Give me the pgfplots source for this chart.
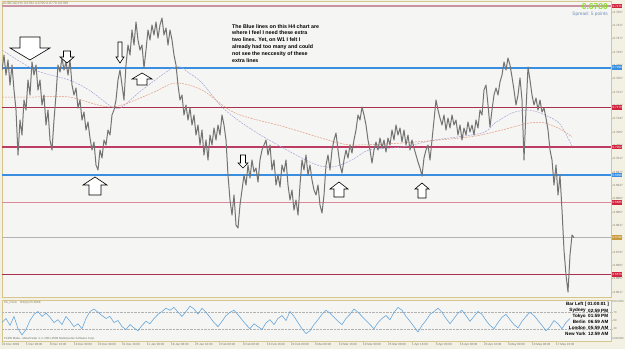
\documentclass[border=0pt]{standalone}
\usepackage{pgfplots}
\usepackage{pgfplotstable}
\pgfplotsset{compat=1.18}
\usepackage{fontspec}
\setmainfont{Liberation Sans}
\definecolor{pagebg}{HTML}{F3F0E4}
\definecolor{chartbg}{HTML}{F5F5F3}
\definecolor{frame}{HTML}{D6C68E}
\definecolor{blueL}{HTML}{3A8EE0}
\definecolor{maroonL}{HTML}{A8304E}
\definecolor{crimL}{HTML}{BC3C62}
\definecolor{pinkL}{HTML}{DC8A9A}
\definecolor{mauveL}{HTML}{C8939F}
\definecolor{grayL}{HTML}{B2B2B2}
\definecolor{priceC}{HTML}{747474}
\definecolor{maP}{HTML}{A4A4DA}
\definecolor{maO}{HTML}{E29A7C}
\definecolor{rsiC}{HTML}{5EA2DA}
\definecolor{lbl}{HTML}{77776A}
\definecolor{goldB}{HTML}{C89A40}
\definecolor{boxred}{HTML}{D0243E}
\definecolor{hdr}{HTML}{8A7D50}
\definecolor{grn}{HTML}{8CE030}
\definecolor{spr}{HTML}{7090B8}

\pgfplotstableread{
x y
0 0.7283
2 0.7328
4 0.7268
6 0.7313
8 0.7238
10 0.7298
12 0.7223
14 0.7163
16 0.7028
18 0.7133
20 0.7088
22 0.7193
24 0.7163
26 0.7253
28 0.7208
30 0.7307
32 0.7268
34 0.7298
36 0.7223
38 0.7253
40 0.7178
42 0.7208
44 0.7118
46 0.7163
48 0.7073
50 0.7043
52 0.7133
54 0.7208
56 0.7298
58 0.7277
60 0.7319
62 0.7283
64 0.7307
66 0.7268
68 0.7313
70 0.7238
72 0.7208
74 0.7229
76 0.7169
78 0.7193
80 0.7133
82 0.7157
84 0.7103
86 0.7127
88 0.7079
90 0.7043
92 0.7067
94 0.6998
96 0.6983
98 0.7043
100 0.7019
102 0.7073
104 0.7058
106 0.7103
108 0.7088
110 0.7148
112 0.7163
114 0.7193
116 0.7253
118 0.7283
120 0.7238
122 0.7193
124 0.7298
126 0.7358
128 0.7328
130 0.7403
132 0.7358
134 0.7427
136 0.7373
138 0.7343
140 0.7358
142 0.7289
144 0.7343
146 0.7403
148 0.7373
150 0.7418
152 0.7388
154 0.7427
156 0.7379
158 0.7418
160 0.7439
162 0.7388
164 0.7409
166 0.7358
168 0.7403
170 0.7373
172 0.7328
174 0.7298
176 0.7238
178 0.7193
180 0.7208
182 0.7148
184 0.7178
186 0.7133
188 0.7169
190 0.7118
192 0.7148
194 0.7088
196 0.7118
198 0.7058
200 0.7103
202 0.7028
204 0.7073
206 0.7013
208 0.7088
210 0.7058
212 0.7109
214 0.7073
216 0.7118
218 0.7088
220 0.7148
222 0.7118
224 0.7073
226 0.6968
228 0.6893
230 0.6848
232 0.6908
234 0.6818
236 0.6809
238 0.6878
240 0.6923
242 0.6968
244 0.6938
246 0.6998
248 0.6959
250 0.7013
252 0.6977
254 0.6989
256 0.6947
258 0.7013
260 0.7043
262 0.7058
264 0.7073
266 0.7028
268 0.7058
270 0.6983
272 0.7013
274 0.6938
276 0.6968
278 0.6932
280 0.6998
282 0.6977
284 0.7013
286 0.6938
288 0.6893
290 0.6923
292 0.6863
294 0.6893
296 0.6848
298 0.6938
300 0.7013
302 0.6983
304 0.7028
306 0.6968
308 0.6998
310 0.6953
312 0.6923
314 0.6908
316 0.6938
318 0.6878
320 0.6854
322 0.6908
324 0.6998
326 0.7028
328 0.6983
330 0.7043
332 0.7073
334 0.7094
336 0.7043
338 0.6998
340 0.6974
342 0.7013
344 0.7043
346 0.7019
348 0.7058
350 0.7034
352 0.7073
354 0.7103
356 0.7148
358 0.7133
360 0.7172
362 0.7148
364 0.7118
366 0.7073
368 0.7043
370 0.7004
372 0.7043
374 0.7067
376 0.7043
378 0.7079
380 0.7049
382 0.7073
384 0.7037
386 0.7079
388 0.7058
390 0.7103
392 0.7073
394 0.7118
396 0.7088
398 0.7109
400 0.7067
402 0.7103
404 0.7058
406 0.7088
408 0.7043
410 0.7073
412 0.7049
414 0.7028
416 0.7007
418 0.6989
420 0.6965
422 0.7019
424 0.7043
426 0.7058
428 0.7013
430 0.7073
432 0.7133
434 0.7193
436 0.7163
438 0.7139
440 0.7118
442 0.7148
444 0.7103
446 0.7139
448 0.7109
450 0.7148
452 0.7118
454 0.7133
456 0.7088
458 0.7118
460 0.7073
462 0.7109
464 0.7088
466 0.7127
468 0.7097
470 0.7118
472 0.7088
474 0.7133
476 0.7109
478 0.7163
480 0.7148
482 0.7223
484 0.7238
486 0.7178
488 0.7112
490 0.7163
492 0.7208
494 0.7229
496 0.7208
498 0.7247
500 0.7268
502 0.7307
504 0.7283
506 0.7319
508 0.7298
510 0.7262
512 0.7223
514 0.7178
516 0.7208
518 0.7259
520 0.7193
522 0.7013
524 0.7163
526 0.7292
528 0.7253
530 0.7208
532 0.7178
534 0.7199
536 0.7163
538 0.7193
540 0.7157
542 0.7169
544 0.7139
546 0.7103
548 0.7043
550 0.7013
552 0.6938
554 0.6998
556 0.6908
558 0.6968
560 0.6863
562 0.6743
564 0.6668
566 0.6617
568 0.6728
570 0.6788
572 0.6780
}\pricedata

\pgfplotstableread{
x v
0 45
4 55
8 38
12 60
16 30
20 15
24 28
28 50
32 65
36 72
40 60
44 68
48 58
52 45
56 52
60 40
64 60
68 48
72 35
76 42
80 30
84 55
88 72
92 78
96 70
100 62
104 55
108 60
112 45
116 50
120 35
124 28
128 40
132 32
136 25
140 38
144 48
148 42
152 55
156 65
160 72
164 80
168 75
172 82
176 70
180 60
184 72
188 85
192 78
196 66
200 80
204 70
208 58
212 45
216 35
220 48
224 62
228 70
232 75
236 64
240 52
244 40
248 30
252 42
256 35
260 28
264 44
268 52
272 40
276 55
280 62
284 50
288 72
292 60
296 45
300 30
304 18
308 25
312 40
316 52
320 65
324 75
328 68
332 58
336 48
340 40
344 55
348 65
352 78
356 70
360 60
364 50
368 40
372 30
376 45
380 55
384 62
388 52
392 70
396 82
400 75
404 60
408 48
412 35
416 22
420 38
424 50
428 65
432 72
436 80
440 70
444 55
448 42
452 55
456 68
460 75
464 62
468 48
472 60
476 72
480 65
484 50
488 38
492 30
496 45
500 58
504 65
508 52
512 40
516 32
520 48
524 60
528 70
532 62
536 50
540 38
544 25
548 35
552 50
556 42
560 30
564 45
568 55
}\rsidata

\newcommand{\darr}[6]{%
\draw[black, fill=white, line width=0.6pt, line join=miter] (#1-#5,#2-#4-#6) -- (#1+#5,#2-#4-#6) -- (#1+#5,#2-#4) -- (#1+#3,#2-#4) -- (#1,#2) -- (#1-#3,#2-#4) -- (#1-#5,#2-#4) -- cycle;}
\newcommand{\uarr}[6]{%
\draw[black, fill=white, line width=0.6pt, line join=miter] (#1,#2) -- (#1+#3,#2+#4) -- (#1+#5,#2+#4) -- (#1+#5,#2+#4+#6) -- (#1-#5,#2+#4+#6) -- (#1-#5,#2+#4) -- (#1-#3,#2+#4) -- cycle;}

\begin{document}
\begin{tikzpicture}[x=1pt,y=1pt]
\useasboundingbox (0,0) rectangle (625,349);
\fill[pagebg] (0,0) rectangle (625,349);

\begin{axis}[
  at={(2pt,52pt)}, anchor=south west,
  scale only axis, width=609pt, height=296pt,
  xmin=0, xmax=609, ymin=0.6602, ymax=0.7490,
  axis background/.style={fill=chartbg},
  axis line style={frame, line width=0.7pt},
  xtick=\empty,
  ytick={0.6617,0.6657,0.6697,0.6737,0.6777,0.6817,0.6857,0.6897,0.6937,0.6977,0.7017,0.7057,0.7097,0.7137,0.7177,0.7217,0.7257,0.7297,0.7337,0.7377,0.7417,0.7457},
  ytick pos=right, yticklabel pos=right, tick align=outside,
  major tick length=1.5pt, tick style={frame, line width=0.4pt},
  scaled y ticks=false,
  yticklabel style={font=\fontsize{3}{3}\selectfont, text=lbl, inner sep=0.8pt,
    /pgf/number format/.cd, fixed, fixed zerofill, precision=4, assume math mode=true},
  clip mode=individual,
]
% support / resistance lines
\addplot[draw=mauveL, line width=1.8pt] coordinates {(0,0.7475) (609,0.7475)};
\addplot[draw=blueL, line width=1.8pt] coordinates {(0,0.7290) (609,0.7290)};
\addplot[draw=maroonL, line width=1.5pt] coordinates {(0,0.7170) (609,0.7170)};
\addplot[draw=crimL, line width=1.5pt] coordinates {(0,0.7052) (609,0.7052)};
\addplot[draw=blueL, line width=1.8pt] coordinates {(0,0.6968) (609,0.6968)};
\addplot[draw=pinkL, line width=1.6pt] coordinates {(0,0.6885) (609,0.6885)};
\addplot[draw=grayL, line width=1.5pt] coordinates {(0,0.6780) (609,0.6780)};
\addplot[draw=maroonL, line width=1.5pt] coordinates {(0,0.6670) (609,0.6670)};
% moving averages
\addplot[draw=maP, line width=0.5pt, dash pattern=on 2pt off 1pt, smooth] coordinates {
(0,0.7343) (33,0.7283) (67,0.7253) (87,0.7223) (110,0.7172) (120,0.7172) (140,0.7223) (173,0.7292) (187,0.7274) (200,0.7244) (220,0.7172) (240,0.7124) (267,0.7073) (310,0.7004) (330,0.6992) (350,0.7013) (367,0.7043) (400,0.7052) (433,0.7073) (480,0.7094) (493,0.7124) (510,0.7154) (527,0.7163) (543,0.7148) (557,0.7124) (567,0.7073) (570,0.7052)};
\addplot[draw=maO, line width=0.5pt, dash pattern=on 2pt off 1pt, smooth] coordinates {
(0,0.7202) (33,0.7202) (67,0.7202) (110,0.7172) (150,0.7214) (173,0.7244) (200,0.7223) (233,0.7154) (283,0.7112) (333,0.7067) (353,0.7058) (400,0.7064) (467,0.7082) (500,0.7103) (527,0.7124) (543,0.7124) (560,0.7103) (570,0.7082)};
% price
\addplot[draw=priceC, line width=1pt, line join=round] table[x=x, y=y] {\pricedata};
% right-scale boxes
\tikzset{lbox/.style={anchor=west, inner sep=0.5pt, minimum height=4.6pt, text=white, font=\fontsize{3}{3}\selectfont, xshift=1pt}}
\node[lbox, fill=boxred] at (axis cs:609,0.7475) {0.7475};
\node[lbox, fill=blueL] at (axis cs:609,0.7290) {0.7290};
\node[lbox, fill=boxred] at (axis cs:609,0.7170) {0.7170};
\node[lbox, fill=boxred] at (axis cs:609,0.7052) {0.7052};
\node[lbox, fill=blueL] at (axis cs:609,0.6968) {0.6968};
\node[lbox, fill=boxred] at (axis cs:609,0.6885) {0.6885};
\node[lbox, fill=goldB] at (axis cs:609,0.6780) {0.6780};
\node[lbox, fill=boxred] at (axis cs:609,0.6670) {0.6670};
\end{axis}

\begin{axis}[
  at={(2pt,8pt)}, anchor=south west,
  scale only axis, width=609pt, height=41pt,
  xmin=0, xmax=609, ymin=0, ymax=100,
  axis background/.style={fill=chartbg},
  axis line style={frame, line width=0.7pt},
  xtick={0,24,48,72,96,120,145,169,193,217,241,265,289,313,337,361,386,410,434,458,482,506,530,554},
  xticklabels={24 Nov 2009, 1 Dec 08:00, 8 Dec 16:00, 16 Dec 00:00, 23 Dec 08:00, 31 Dec 16:00, 11 Jan 00:00, 18 Jan 08:00, 25 Jan 16:00, 2 Feb 00:00, 9 Feb 08:00, 16 Feb 16:00, 24 Feb 00:00, 3 Mar 08:00, 10 Mar 16:00, 18 Mar 00:00, 25 Mar 08:00, 1 Apr 16:00, 9 Apr 00:00, 16 Apr 08:00, 23 Apr 16:00, 3 May 00:00, 10 May 08:00, 17 May 16:00},
  xtick pos=left, xticklabel style={anchor=north west, inner sep=0pt, yshift=-0.8pt, font=\fontsize{3}{3}\selectfont, text=lbl},
  ytick={30,50,70}, ytick pos=right, yticklabel pos=right,
  yticklabel style={font=\fontsize{2.8}{3}\selectfont, text=lbl, inner sep=0.8pt, /pgf/number format/assume math mode=true},
  tick align=outside, major tick length=1.5pt, tick style={frame, line width=0.4pt},
  clip mode=individual,
]
\addplot[draw=gray!60, densely dotted, line width=0.4pt] coordinates {(0,70) (609,70)};
\addplot[draw=gray!60, densely dotted, line width=0.4pt] coordinates {(0,30) (609,30)};
\addplot[draw=rsiC, line width=0.55pt] table[x=x, y=v] {\rsidata};
\node[anchor=north west, inner sep=0.8pt, font=\fontsize{2.8}{3}\selectfont, text=lbl] at (axis cs:609,100) {100.0000};
\node[anchor=south west, inner sep=0.8pt, font=\fontsize{2.8}{3}\selectfont, text=lbl] at (axis cs:609,0) {0.000000};
\end{axis}

\begin{scope}[shift={(0,349)}, y=-1pt]
% header
\node[anchor=north west, inner sep=0, font=\fontsize{3.4}{4}\selectfont, text=hdr] at (3,1.6) {AUDCAD,H4 0.6782 0.6790 0.6779 0.6780};
\node[anchor=north east, inner sep=0, font=\bfseries\fontsize{8.5}{9}\selectfont, text=grn] at (608,3) {0.6780};
\node[anchor=north east, inner sep=0, font=\fontsize{4.8}{5}\selectfont, text=spr] at (608,12.2) {Spread: 5 points};
% annotation
\node[anchor=north west, align=left, inner sep=0, font=\bfseries\fontsize{5.3}{6.9}\selectfont] at (232,24) {The Blue lines on this H4 chart are\\where I feel I need these extra\\two lines. Yet, on W1 I felt I\\already had too many and could\\not see the neccesity of these\\extra lines};
% arrows
\darr{30}{60}{20}{12}{10}{11}
\darr{67}{63}{7}{6}{3.5}{6}
\darr{120}{63}{4}{6}{2}{15}
\uarr{142}{73}{10}{6}{5}{6}
\uarr{95}{177}{12}{8}{6}{10}
\darr{243}{168}{5}{5}{2.5}{8}
\uarr{339}{182}{9}{7}{5}{8}
\uarr{422}{183}{7}{6}{4}{9}
% lower panel texts
\node[anchor=north west, inner sep=0, font=\fontsize{3}{3}\selectfont, text=hdr] at (4,301.5) {PA\_Clock\quad RSI(8) 55.5068};
\node[anchor=south west, inner sep=0, font=\fontsize{2.9}{3}\selectfont, text=lbl] at (4,340) {FXDD Malta - MetaTrader 4, \textcopyright{} 2001-2009 MetaQuotes Software Corp.};
\tikzset{clk/.style={inner sep=0, font=\bfseries\fontsize{4.6}{5}\selectfont}}
\node[clk, anchor=east] at (609,304.5) {Bar Left [ 01:00:01 ]};
\node[clk, anchor=east] at (586,310.5) {Sydney};   \node[clk, anchor=west] at (588,310.5) {02:59 PM};
\node[clk, anchor=east] at (586,316.3) {Tokyo};    \node[clk, anchor=west] at (588,316.3) {01:59 PM};
\node[clk, anchor=east] at (586,322.1) {Berlin};   \node[clk, anchor=west] at (588,322.1) {06:59 AM};
\node[clk, anchor=east] at (586,327.9) {London};   \node[clk, anchor=west] at (588,327.9) {05:59 AM};
\node[clk, anchor=east] at (586,333.7) {New York}; \node[clk, anchor=west] at (588,333.7) {12:59 AM};
\end{scope}
\end{tikzpicture}
\end{document}
